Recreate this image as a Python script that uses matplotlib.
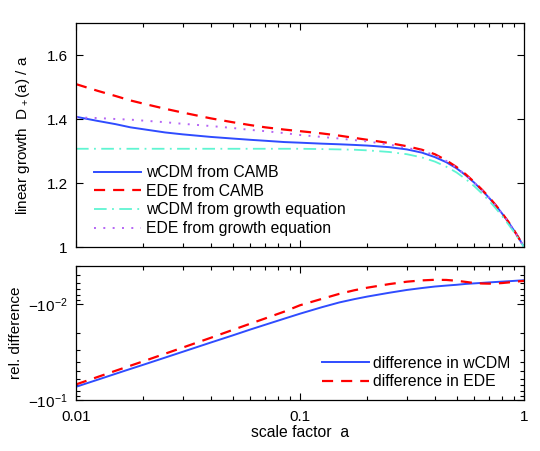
import numpy as np
import matplotlib
matplotlib.use("Agg")
from matplotlib import pyplot as plt
from matplotlib.ticker import FixedLocator, NullFormatter

plt.rcParams["font.family"] = ["Liberation Sans", "DejaVu Sans"]
plt.rcParams["mathtext.fontset"] = "custom"
plt.rcParams["mathtext.rm"] = "Liberation Sans"
plt.rcParams["mathtext.default"] = "regular"

# --- data
a = [0.01, 0.0125, 0.015, 0.0175, 0.02, 0.025, 0.03, 0.04, 0.05, 0.06, 0.07,
     0.085, 0.1, 0.125, 0.15, 0.175, 0.2, 0.25, 0.3, 0.35, 0.4, 0.45, 0.5,
     0.55, 0.6, 0.65, 0.7, 0.75, 0.8, 0.85, 0.9, 0.95, 1.0]

wcdm_camb = [1.407, 1.394, 1.384, 1.374, 1.368, 1.358, 1.352, 1.344, 1.339, 1.335,
             1.332, 1.328, 1.326, 1.323, 1.321, 1.319, 1.317, 1.312, 1.305, 1.295,
             1.281, 1.265, 1.246, 1.224, 1.201, 1.177, 1.153, 1.129, 1.104, 1.079,
             1.053, 1.027, 1.0]
ede_camb = [1.509, 1.488, 1.472, 1.458, 1.448, 1.432, 1.420, 1.402, 1.390, 1.381,
            1.374, 1.367, 1.362, 1.355, 1.348, 1.341, 1.335, 1.325, 1.315, 1.304,
            1.290, 1.271, 1.250, 1.227, 1.203, 1.179, 1.155, 1.130, 1.105, 1.080,
            1.054, 1.027, 1.0]
wcdm_growth = [1.307, 1.307, 1.307, 1.307, 1.307, 1.307, 1.307, 1.307, 1.307, 1.307,
               1.307, 1.307, 1.307, 1.306, 1.305, 1.304, 1.302, 1.297, 1.290, 1.280,
               1.267, 1.251, 1.233, 1.212, 1.190, 1.167, 1.144, 1.120, 1.096, 1.072,
               1.048, 1.024, 1.0]
ede_growth = [1.405, 1.403, 1.400, 1.398, 1.395, 1.390, 1.385, 1.378, 1.372, 1.366,
              1.362, 1.356, 1.350, 1.344, 1.339, 1.334, 1.330, 1.320, 1.310, 1.300,
              1.287, 1.269, 1.248, 1.225, 1.201, 1.177, 1.153, 1.129, 1.104, 1.079,
              1.053, 1.027, 1.0]

# relative differences (negative)
diff_wcdm = [-0.0724, -0.0611, -0.0531, -0.0472, -0.0427, -0.0360, -0.0313, -0.0251,
             -0.0212, -0.0184, -0.0164, -0.0142, -0.0126, -0.0108, -0.00962, -0.00889,
             -0.00836, -0.00764, -0.00714, -0.00682, -0.00658, -0.00643, -0.00631,
             -0.00618, -0.0061, -0.00603, -0.00596, -0.0059, -0.00585, -0.0058,
             -0.00575, -0.0057, -0.00566]
diff_ede = [-0.0684, -0.0572, -0.0494, -0.0437, -0.0393, -0.0328, -0.0283, -0.0224,
            -0.0186, -0.0160, -0.0141, -0.0120, -0.0103, -0.00885, -0.00783, -0.00719,
            -0.00676, -0.00621, -0.00586, -0.00568, -0.0056, -0.00562, -0.00573,
            -0.00589, -0.00605, -0.00612, -0.00614, -0.00611, -0.00605, -0.00597,
            -0.00589, -0.00581, -0.00575]

x_ticks = [0.01, 0.1, 1]
x_ticklabels = ["0.01", "0.1", "1"]
top_yticks = [1, 1.2, 1.4, 1.6]
top_yticklabels = ["1", "1.2", "1.4", "1.6"]
bot_yticks = [0.01, 0.1]
bot_yticklabels = [r"$-10^{-2}$", r"$-10^{-1}$"]

BLUE = "#2f4cff"
RED = "#ff0000"
CYAN = "#5ff5d2"
PURPLE = "#b565f5"

fig = plt.figure(figsize=(5.4, 4.51), dpi=100)
ax1 = fig.add_axes([0.1407, 0.4523, 0.8296, 0.4967])
ax2 = fig.add_axes([0.1407, 0.1124, 0.8296, 0.2984])

minor_x = [m * 10.0 ** e for e in (-2, -1) for m in range(2, 10)]

def style_axis(ax):
    ax.set_xscale("log")
    ax.set_xlim(0.01, 1)
    ax.xaxis.set_major_locator(FixedLocator(x_ticks))
    ax.xaxis.set_minor_locator(FixedLocator(minor_x))
    ax.xaxis.set_minor_formatter(NullFormatter())
    ax.tick_params(which="both", direction="in", top=True, right=True,
                   labelsize=11, width=0.8)
    ax.tick_params(which="major", length=5)
    ax.tick_params(which="minor", length=3)
    ax.tick_params(axis="x", pad=7)
    ax.tick_params(axis="y", pad=6)
    for s in ax.spines.values():
        s.set_linewidth(0.9)

# --- top panel
ax1.plot(a, wcdm_camb, color=BLUE, lw=1.4, label="wCDM from CAMB")
ax1.plot(a, ede_camb, color=RED, lw=1.6, dashes=(5, 3.6), label="EDE from CAMB")
ax1.plot(a, wcdm_growth, color=CYAN, lw=1.3, dashes=(7, 3, 1, 3),
         label="wCDM from growth equation")
ax1.plot(a, ede_growth, color=PURPLE, lw=1.4, dashes=(1, 3.8),
         label="EDE from growth equation")
style_axis(ax1)
ax1.set_ylim(1, 1.7)
ax1.set_yticks(top_yticks)
ax1.set_yticklabels(top_yticklabels)
ax1.set_xticklabels([])
ax1.set_ylabel(r"linear growth  D$_+$(a) / a", fontsize=11)
ax1.yaxis.set_label_coords(-0.098, 0.5)
ax1.legend(loc="lower left", bbox_to_anchor=(0.016, 0.0), frameon=False,
           fontsize=11.3, handlelength=3.0, handletextpad=0.3,
           labelspacing=0.23, borderaxespad=0.3)

# --- bottom panel
ax2.plot(a, -np.array(diff_wcdm), color=BLUE, lw=1.4, label="difference in wCDM")
ax2.plot(a, -np.array(diff_ede), color=RED, lw=1.6, dashes=(5, 3.6),
         label="difference in EDE")
style_axis(ax2)
ax2.set_yscale("log")
ax2.set_ylim(0.1, 0.004)
ax2.yaxis.set_major_locator(FixedLocator(bot_yticks))
ax2.set_yticklabels(bot_yticklabels)
ax2.yaxis.set_minor_locator(FixedLocator(
    [m * 10.0 ** e for e in (-3, -2) for m in range(2, 10)]))
ax2.yaxis.set_minor_formatter(NullFormatter())
ax2.set_xticklabels(x_ticklabels)
ax2.set_xlabel("scale factor  a", fontsize=11.3, labelpad=1)
ax2.set_ylabel("rel. difference", fontsize=11)
ax2.yaxis.set_label_coords(-0.118, 0.5)
ax2.legend(loc="lower right", bbox_to_anchor=(0.995, 0.0), frameon=False,
           fontsize=11.3, handlelength=3.0, handletextpad=0.3,
           labelspacing=0.23, borderaxespad=0.3)

fig.savefig("out.png", dpi=100)
